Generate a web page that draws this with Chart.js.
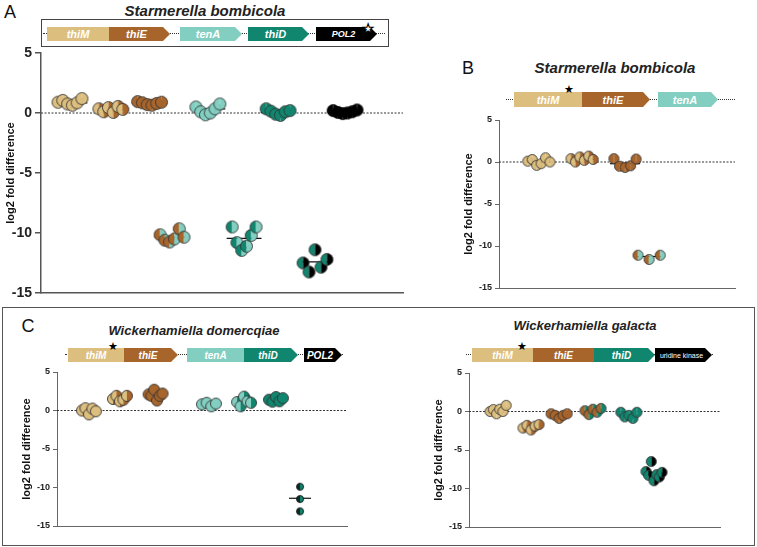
<!DOCTYPE html>
<html>
<head>
<meta charset="utf-8">
<script src="https://cdn.jsdelivr.net/npm/chart.js@4.4.0/dist/chart.umd.min.js"></script>
<style>
  body { margin:0; background:#fff; font-family:"Liberation Sans", Arial, sans-serif; color:#222; }
  #fig { position:relative; width:757px; height:547px; overflow:hidden; background:#fff; }
  .ctr { position:absolute; transform:translate(-50%,-50%); white-space:nowrap; }
  .letter { font-size:18px; color:#111; }
  .title { font-weight:bold; font-style:italic; color:#222; }
  .gene { position:absolute; box-sizing:border-box; color:#fff; font-weight:bold; font-style:italic;
          display:flex; align-items:center; justify-content:center; white-space:nowrap; overflow:hidden; }
  .dots { position:absolute; border-top:1.5px dotted #333; }
  .wrap { position:absolute; }
  .boxA { position:absolute; left:41px; top:19px; width:346px; height:26px; border:1.5px solid #444; }
  .boxC { position:absolute; left:2px; top:307px; width:751px; height:237px; border:1.5px solid #555; }
</style>
</head>
<body>
<div id="fig">
  <div class="boxC"></div>
  <div class="boxA"></div>
  <div class="ctr letter" style="left:10px;top:12px;">A</div>
  <div class="ctr letter" style="left:468px;top:68px;">B</div>
  <div class="ctr letter" style="left:28px;top:326px;">C</div>
  <div class="ctr title" style="left:205px;top:10px;font-size:15px;">Starmerella bombicola</div>
  <div class="ctr title" style="left:615px;top:67px;font-size:15px;">Starmerella bombicola</div>
  <div class="ctr title" style="left:194px;top:330px;font-size:13px;">Wickerhamiella domercqiae</div>
  <div class="ctr title" style="left:585px;top:325px;font-size:13px;">Wickerhamiella galacta</div>
</div>
<script>
  // colours of the genes
  var TAN = '#dcbe7e', BROWN = '#a8652b', LIGHT = '#82cfc1', TEAL = '#10866f', BLACK = '#000000';

  // ---- panel A : Starmerella bombicola ----
  var groupsA = ['thiM', 'thiM/thiE', 'thiE', 'thiE/tenA', 'tenA', 'tenA/thiD', 'thiD', 'thiD/POL2', 'POL2'];
  var posA = [8, 19.3, 30, 36.2, 46.1, 56.1, 65.5, 75.7, 84];
  var valuesA = [
    [0.9, 1.05, 0.75, 0.65, 0.85, 1.2],
    [0.35, 0.1, 0.45, 0.05, 0.55, 0.3],
    [0.95, 0.85, 0.7, 0.65, 0.8, 0.9],
    [-10.15, -10.6, -10.75, -10.5, -9.65, -10.35],
    [0.5, 0.1, -0.15, 0.0, 0.35, 0.75],
    [-9.5, -10.8, -11.45, -11.1, -10.2, -9.5],
    [0.35, 0.15, -0.1, -0.2, 0.1, 0.2],
    [-12.5, -13.25, -11.4, -12.85, -12.2],
    [0.2, 0.05, -0.05, 0.0, 0.1, 0.25]
  ];
  var mediansA = [0.85, 0.25, 0.8, -10.35, 0.35, -10.45, 0.05, -12.4, 0.1];

  // ---- panel B : Starmerella bombicola ----
  var groupsB = ['thiM', 'thiM/thiE', 'thiE', 'thiE/tenA'];
  var posB = [16.9, 35.2, 53.4, 63.6];
  var valuesB = [
    [0.1, 0.3, -0.4, -0.2, 0.5, 0.0],
    [0.4, 0.0, 0.6, 0.2, 0.7, 0.3],
    [0.4, -0.5, -0.65, -0.45, 0.35],
    [-11.1, -11.6, -11.1]
  ];
  var mediansB = [0.0, 0.3, -0.2, -11.25];

  // ---- panel C left : Wickerhamiella domercqiae ----
  var groupsC1 = ['thiM', 'thiM/thiE', 'thiE', 'tenA', 'tenA/thiD', 'thiD', 'thiD/POL2'];
  var posC1 = [11, 21.7, 34, 52.4, 64.5, 75.5, 83.8];
  var valuesC1 = [
    [0.0, 0.3, -0.5, 0.25, -0.1],
    [1.5, 1.9, 1.2, 1.4, 1.9],
    [2.1, 1.9, 2.7, 1.3, 1.9, 2.2],
    [0.8, 1.0, 0.55, 0.9],
    [1.1, 0.55, 1.8, 1.2, 1.0],
    [1.4, 1.15, 1.75, 1.2, 1.6],
    [-9.9, -11.5, -13.1]
  ];
  var mediansC1 = [0.0, 1.5, 2.05, 0.8, 1.05, 1.4, -11.4];

  // ---- panel C right : Wickerhamiella galacta ----
  var groupsC2 = ['thiM', 'thiM/thiE', 'thiE', 'thiE/thiD', 'thiD', 'thiD/uridine kinase'];
  var posC2 = [11.6, 24.7, 35.9, 49.4, 63.7, 73.7];
  var valuesC2 = [
    [0.0, 0.25, -0.3, 0.3, 0.0, 0.8],
    [-2.15, -1.8, -2.4, -1.9, -1.7],
    [-0.3, -0.5, -0.9, -0.5, -0.3],
    [0.1, -0.4, 0.3, -0.1, 0.4],
    [-0.1, -0.7, -0.5, -0.9, -0.1],
    [-7.8, -8.3, -6.5, -9.0, -8.2, -8.5, -7.9]
  ];
  var mediansC2 = [0.05, -2.15, -0.5, 0.0, -0.5, -8.1];

  var yTicks = [-15, -10, -5, 0, 5];

  var fig = document.getElementById('fig');

  // gene map drawn as plain html
  function drawGenes(g) {
    var line = document.createElement('div');
    line.className = 'dots';
    line.style.left = g.from + 'px';
    line.style.width = (g.to - g.from) + 'px';
    line.style.top = (g.top + g.h / 2 - 1) + 'px';
    fig.appendChild(line);
    g.genes.forEach(function (d) {
      var el = document.createElement('div');
      el.className = 'gene';
      el.style.left = d.x0 + 'px';
      el.style.width = (d.x1 - d.x0) + 'px';
      el.style.top = g.top + 'px';
      el.style.height = g.h + 'px';
      el.style.background = d.color;
      el.style.fontSize = (d.size || g.size) + 'px';
      if (d.arrow) {
        el.style.clipPath = 'polygon(0 0, calc(100% - 7px) 0, 100% 50%, calc(100% - 7px) 100%, 0 100%)';
        el.style.paddingRight = (d.plain ? 4 : 6) + 'px';
      }
      if (d.plain) { el.style.fontWeight = 'normal'; el.style.fontStyle = 'normal'; }
      el.textContent = d.name;
      fig.appendChild(el);
    });
    var st = document.createElement('div');
    st.className = 'ctr';
    st.style.left = g.star[0] + 'px';
    st.style.top = g.star[1] + 'px';
    st.style.fontSize = g.star[2] + 'px';
    st.style.fontFamily = 'DejaVu Sans';
    if (g.star[3]) {
      // open star
      st.style.color = '#fff';
      st.style.webkitTextStroke = '1px #000';
    } else {
      st.style.color = '#000';
    }
    st.textContent = '\u2605';
    fig.appendChild(st);
  }

  drawGenes({ from: 43, to: 385, top: 27, h: 14, size: 11, star: [368, 28, 13, true], genes: [
    { name: 'thiM', x0: 47, x1: 109, color: TAN },
    { name: 'thiE', x0: 109, x1: 170, color: BROWN, arrow: true },
    { name: 'tenA', x0: 180, x1: 242, color: LIGHT, arrow: true },
    { name: 'thiD', x0: 248, x1: 309, color: TEAL, arrow: true },
    { name: 'POL2', x0: 316, x1: 377, color: BLACK, arrow: true, size: 9 }
  ]});
  drawGenes({ from: 506, to: 735, top: 92, h: 15, size: 11, star: [569, 89, 11], genes: [
    { name: 'thiM', x0: 514, x1: 582, color: TAN },
    { name: 'thiE', x0: 582, x1: 650, color: BROWN, arrow: true },
    { name: 'tenA', x0: 658, x1: 718, color: LIGHT, arrow: true }
  ]});
  drawGenes({ from: 65, to: 343, top: 348, h: 14, size: 10, star: [113, 346, 11], genes: [
    { name: 'thiM', x0: 68, x1: 124, color: TAN },
    { name: 'thiE', x0: 124, x1: 178, color: BROWN, arrow: true },
    { name: 'tenA', x0: 187, x1: 244, color: LIGHT },
    { name: 'thiD', x0: 244, x1: 298, color: TEAL, arrow: true },
    { name: 'POL2', x0: 304, x1: 342, color: BLACK, arrow: true }
  ]});
  drawGenes({ from: 466, to: 713, top: 348, h: 14, size: 10, star: [522, 346, 11], genes: [
    { name: 'thiM', x0: 472, x1: 533, color: TAN },
    { name: 'thiE', x0: 533, x1: 594, color: BROWN },
    { name: 'thiD', x0: 594, x1: 655, color: TEAL, arrow: true },
    { name: 'uridine kinase', x0: 655, x1: 712, color: BLACK, arrow: true, size: 7, plain: true }
  ]});

  // round marker split in two colours
  function makeDot(left, right, r, edge) {
    var c = document.createElement('canvas');
    var s = Math.ceil(2 * r + 3);
    c.width = s; c.height = s;
    var ctx = c.getContext('2d');
    var m = s / 2;
    ctx.beginPath(); ctx.moveTo(m, m); ctx.arc(m, m, r, Math.PI / 2, Math.PI * 1.5); ctx.closePath();
    ctx.fillStyle = left; ctx.fill();
    ctx.beginPath(); ctx.moveTo(m, m); ctx.arc(m, m, r, -Math.PI / 2, Math.PI / 2); ctx.closePath();
    ctx.fillStyle = right; ctx.fill();
    ctx.beginPath(); ctx.arc(m, m, r, 0, Math.PI * 2);
    ctx.lineWidth = 0.9; ctx.strokeStyle = edge; ctx.stroke();
    return c;
  }

  function panel(box, cfg) {
    var wrap = document.createElement('div');
    wrap.className = 'wrap';
    wrap.style.left = box.left + 'px';
    wrap.style.top = box.top + 'px';
    var cv = document.createElement('canvas');
    cv.width = box.w; cv.height = box.h;
    cv.style.width = box.w + 'px'; cv.style.height = box.h + 'px';
    wrap.appendChild(cv);
    fig.appendChild(wrap);

    var datasets = [];
    cfg.values.forEach(function (vals, i) {
      var n = vals.length;
      var sp = cfg.spread[i] !== undefined ? cfg.spread[i] : cfg.spreadAll;
      var r = cfg.radius[i] || cfg.radiusAll;
      var col = cfg.colors[i];
      datasets.push({
        label: cfg.groups[i],
        data: vals.map(function (v, k) {
          return { x: cfg.pos[i] + (n > 1 ? (k / (n - 1) - 0.5) * 2 * sp : 0), y: v };
        }),
        pointStyle: makeDot(col[0], col[1], r, col[2] || '#333'),
        pointRadius: r,
        order: 0
      });
      datasets.push({
        data: [{ x: cfg.pos[i] - cfg.half, y: cfg.medians[i] }, { x: cfg.pos[i] + cfg.half, y: cfg.medians[i] }],
        showLine: true, borderColor: '#111', borderWidth: 1.2, pointRadius: 0, order: 1
      });
    });
    datasets.push({
      data: [{ x: 0, y: 0 }, { x: 100, y: 0 }],
      showLine: true, borderColor: '#333', borderWidth: 1, borderDash: [2, 1.5], pointRadius: 0, order: 2
    });

    new Chart(cv, {
      type: 'scatter',
      data: { datasets: datasets },
      options: {
        responsive: false,
        animation: false,
        layout: { padding: box.pad },
        plugins: { legend: { display: false }, tooltip: { enabled: false } },
        scales: {
          x: {
            type: 'linear', min: 0, max: 100,
            ticks: { display: false },
            grid: { display: false },
            border: { display: true, color: box.axisColor, width: box.axisWidth },
            afterFit: function (s) { s.height = 0; }
          },
          y: {
            min: -15, max: 5,
            afterBuildTicks: function (s) { s.ticks = yTicks.map(function (v) { return { value: v }; }); },
            ticks: { font: { family: 'Liberation Sans', weight: 'bold', size: box.tickSize }, color: '#222', padding: 3 },
            grid: { drawOnChartArea: false, drawTicks: true, tickLength: box.tickLen, color: box.axisColor, lineWidth: box.axisWidth },
            border: { display: true, color: box.axisColor, width: box.axisWidth },
            title: { display: true, text: 'log2 fold difference', color: '#111',
                     font: { family: 'Liberation Sans', weight: 'bold', size: 11 }, padding: { top: 4, bottom: 4 } },
            afterFit: function (s) { s.width = box.axisW; }
          }
        }
      }
    });
  }

  panel({ left: 0, top: 40, w: 420, h: 265, axisW: 41, pad: { top: 13, right: 17, bottom: 12, left: 0 },
          tickSize: 14, tickLen: 6, axisColor: '#555', axisWidth: 1.5 },
        { groups: groupsA, pos: posA, values: valuesA, medians: mediansA, half: 4.8, spreadAll: 3.3, spread: [],
          radiusAll: 6, radius: [],
          colors: [[TAN, TAN], [TAN, BROWN], [BROWN, BROWN], [BROWN, LIGHT], [LIGHT, LIGHT], [TEAL, LIGHT],
                   [TEAL, TEAL], [TEAL, BLACK], [BLACK, BLACK, '#000']] });

  panel({ left: 458, top: 105, w: 290, h: 195, axisW: 41, pad: { top: 15, right: 13, bottom: 12, left: 0 },
          tickSize: 9, tickLen: 4, axisColor: '#666', axisWidth: 1 },
        { groups: groupsB, pos: posB, values: valuesB, medians: mediansB, half: 6.4, spreadAll: 4.7, spread: [],
          radiusAll: 5, radius: [],
          colors: [[TAN, TAN], [TAN, BROWN], [BROWN, BROWN], [BROWN, LIGHT]] });

  panel({ left: 16, top: 362, w: 340, h: 178, axisW: 41, pad: { top: 10, right: 9, bottom: 14, left: 0 },
          tickSize: 9, tickLen: 4, axisColor: '#666', axisWidth: 1 },
        { groups: groupsC1, pos: posC1, values: valuesC1, medians: mediansC1, half: 3.8, spreadAll: 2.4,
          spread: [undefined, undefined, undefined, undefined, undefined, undefined, 0],
          radiusAll: 5.5, radius: [0, 0, 0, 0, 0, 0, 3.5],
          colors: [[TAN, TAN], [TAN, BROWN], [BROWN, BROWN], [LIGHT, LIGHT], [LIGHT, TEAL], [TEAL, TEAL],
                   ['#0c2a25', TEAL, '#111']] });

  panel({ left: 428, top: 362, w: 300, h: 178, axisW: 41, pad: { top: 11, right: 8, bottom: 13, left: 0 },
          tickSize: 9, tickLen: 4, axisColor: '#666', axisWidth: 1 },
        { groups: groupsC2, pos: posC2, values: valuesC2, medians: mediansC2, half: 4, spreadAll: 3.2, spread: [],
          radiusAll: 5, radius: [],
          colors: [[TAN, TAN], [TAN, BROWN], [BROWN, BROWN], [BROWN, TEAL], [TEAL, TEAL], [TEAL, BLACK]] });
</script>
</body>
</html>
